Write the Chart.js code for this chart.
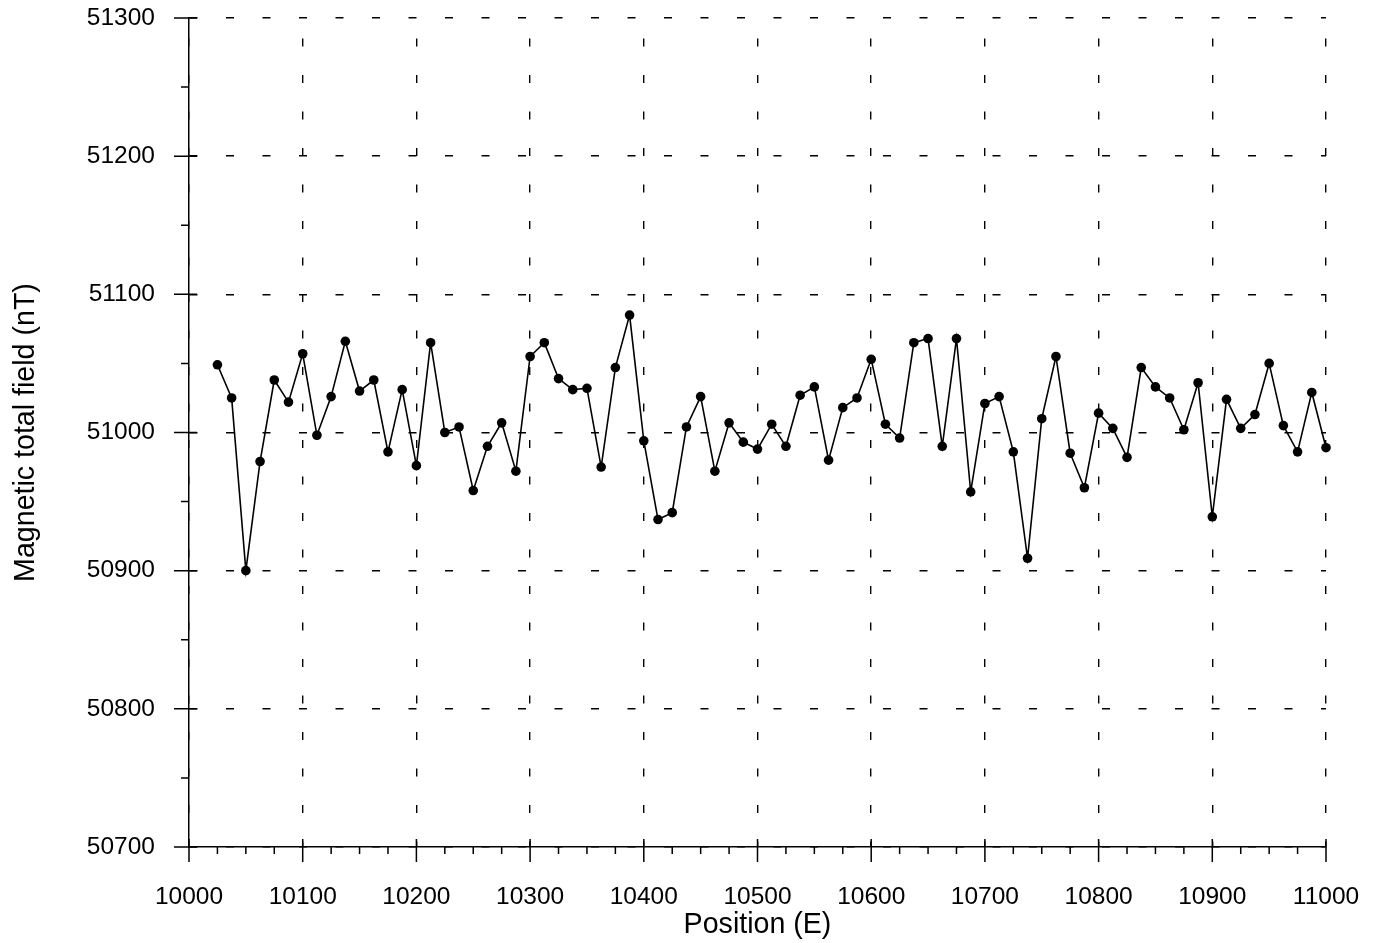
<!DOCTYPE html>
<html lang="en">

<head>
  <meta charset="UTF-8">
  <title>Magnetic total field</title>
  <script src="https://cdn.jsdelivr.net/npm/chart.js"></script>
  <style>
    html, body { margin: 0; padding: 0; background: #fff; }
    #grafico { display: block; }
  </style>
</head>

<body>
  <canvas id="grafico" width="1378" height="943"></canvas>
</body>

</html>
<script>
  // station positions along the line (E)
  const posicoes = [
    10025, 10037.5, 10050, 10062.5, 10075, 10087.5, 10100, 10112.5, 10125, 10137.5,
    10150, 10162.5, 10175, 10187.5, 10200, 10212.5, 10225, 10237.5, 10250, 10262.5,
    10275, 10287.5, 10300, 10312.5, 10325, 10337.5, 10350, 10362.5, 10375, 10387.5,
    10400, 10412.5, 10425, 10437.5, 10450, 10462.5, 10475, 10487.5, 10500, 10512.5,
    10525, 10537.5, 10550, 10562.5, 10575, 10587.5, 10600, 10612.5, 10625, 10637.5,
    10650, 10662.5, 10675, 10687.5, 10700, 10712.5, 10725, 10737.5, 10750, 10762.5,
    10775, 10787.5, 10800, 10812.5, 10825, 10837.5, 10850, 10862.5, 10875, 10887.5,
    10900, 10912.5, 10925, 10937.5, 10950, 10962.5, 10975, 10987.5, 11000
  ];

  // total field readings (nT)
  const campoTotal = [
    51049, 51025, 50900, 50979, 51038, 51022, 51057, 50998, 51026, 51066,
    51030, 51038, 50986, 51031, 50976, 51065, 51000, 51004, 50958, 50990,
    51007, 50972, 51055, 51065, 51039, 51031, 51032, 50975, 51047, 51085,
    50994, 50937, 50942, 51004, 51026, 50972, 51007, 50993, 50988, 51006,
    50990, 51027, 51033, 50980, 51018, 51025, 51053, 51006, 50996, 51065,
    51068, 50990, 51068, 50957, 51021, 51026, 50986, 50909, 51010, 51055,
    50985, 50960, 51014, 51003, 50982, 51047, 51033, 51025, 51002, 51036,
    50939, 51024, 51003, 51013, 51050, 51005, 50986, 51029, 50989
  ];

  const limitesX = [10000, 11000];
  const limitesY = [50700, 51300];
  const passoX = 100, passoMenorX = 25;
  const passoY = 100, passoMenorY = 50;

  const fonte = 'Liberation Sans, Arial, Helvetica, sans-serif';

  let pontos = [];
  for (let i = 0; i < posicoes.length; i++) {
    pontos.push({ x: posicoes[i], y: campoTotal[i] });
  }

  // tick marks: major ones cross the axis, minor ones point outwards
  const marcasEixos = {
    id: 'marcasEixos',
    afterDraw(chart) {
      const ctx = chart.ctx;
      const area = chart.chartArea;
      const sx = chart.scales.x;
      const sy = chart.scales.y;
      ctx.save();
      ctx.strokeStyle = '#000';
      ctx.lineWidth = 1.5;
      ctx.beginPath();
      for (let v = limitesX[0]; v <= limitesX[1]; v += passoMenorX) {
        const px = sx.getPixelForValue(v);
        if (v % passoX === 0) {
          ctx.moveTo(px, area.bottom - 8);
          ctx.lineTo(px, area.bottom + 15);
        } else {
          ctx.moveTo(px, area.bottom);
          ctx.lineTo(px, area.bottom + 7);
        }
      }
      for (let v = limitesY[0]; v <= limitesY[1]; v += passoMenorY) {
        const py = sy.getPixelForValue(v);
        if (v % passoY === 0) {
          ctx.moveTo(area.left - 15, py);
          ctx.lineTo(area.left + 8, py);
        } else {
          ctx.moveTo(area.left - 8, py);
          ctx.lineTo(area.left, py);
        }
      }
      ctx.stroke();
      ctx.restore();
    }
  };

  const config = {
    type: 'line',
    data: {
      datasets: [{
        label: 'Magnetic total field',
        data: pontos,
        borderColor: '#000',
        backgroundColor: '#000',
        borderWidth: 1.6,
        pointRadius: 4.8,
        pointBackgroundColor: '#000',
        pointBorderWidth: 0,
        tension: 0,
        fill: false,
        clip: false
      }]
    },
    options: {
      responsive: false,
      animation: false,
      devicePixelRatio: 1,
      layout: { padding: { left: 0, right: 52, top: 18, bottom: 0 } },
      plugins: {
        legend: { display: false },
        tooltip: { enabled: false }
      },
      scales: {
        x: {
          type: 'linear',
          min: limitesX[0],
          max: limitesX[1],
          afterFit: function (scale) {
            scale.height = 96;
            scale.paddingLeft = 0;
            scale.paddingRight = 0;
          },
          ticks: {
            stepSize: passoX,
            color: '#000',
            padding: 36,
            maxRotation: 0,
            font: { family: fonte, size: 24.5 },
            callback: function (value) { return value; }
          },
          grid: {
            color: '#000',
            lineWidth: 1.4,
            drawTicks: false
          },
          border: { display: true, color: '#000', width: 1.5, dash: [8, 28.5], dashOffset: 16 },
          title: {
            display: true,
            text: 'Position (E)',
            color: '#000',
            font: { family: fonte, size: 28.6 },
            padding: { top: 0, bottom: 1 }
          }
        },
        y: {
          type: 'linear',
          min: limitesY[0],
          max: limitesY[1],
          afterFit: function (scale) {
            scale.width = 189;
            scale.paddingTop = 0;
            scale.paddingBottom = 0;
          },
          ticks: {
            stepSize: passoY,
            color: '#000',
            padding: 34,
            font: { family: fonte, size: 24.5 },
            callback: function (value) { return value; }
          },
          grid: {
            color: '#000',
            lineWidth: 1.4,
            drawTicks: false
          },
          border: { display: true, color: '#000', width: 1.5, dash: [8, 28.5], dashOffset: 0 },
          title: {
            display: true,
            text: 'Magnetic total field (nT)',
            color: '#000',
            font: { family: fonte, size: 28.6 },
            padding: { top: 9, bottom: 0 }
          }
        }
      }
    },
    plugins: [marcasEixos]
  };

  new Chart(document.getElementById('grafico'), config);
</script>
